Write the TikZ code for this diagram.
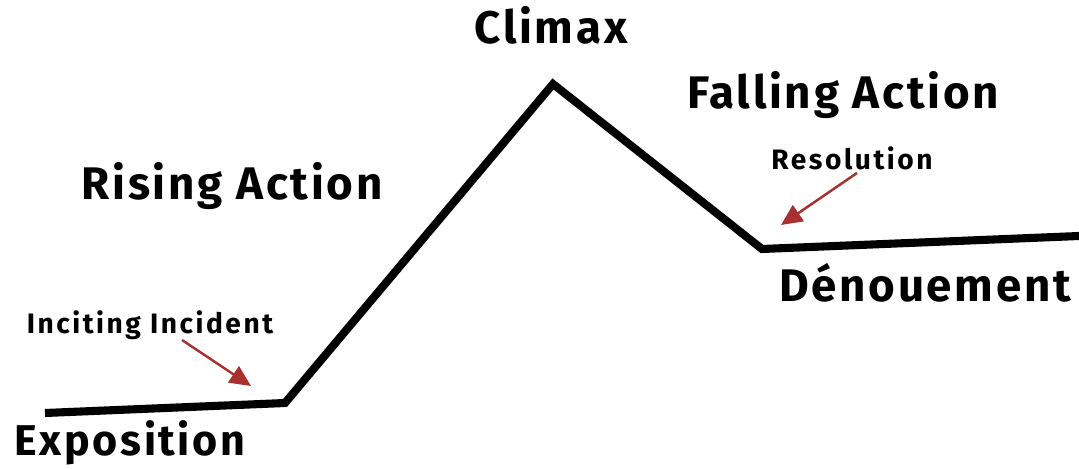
\documentclass[tikz,border=0pt]{standalone}
\usepackage{fontspec}
\setmainfont{Fira Sans}
\newfontfamily\handwide[LetterSpace=6]{Fira Sans}
\newfontfamily\handsmall[LetterSpace=9]{Fira Sans}
\usetikzlibrary{arrows.meta}
\definecolor{pointer}{HTML}{A8302E}
\tikzset{
  plotline/.style={line width=4.6pt, line join=miter, black},
  big/.style={font=\handwide\fontsize{26}{30}\selectfont\bfseries, inner sep=0pt},
  small/.style={font=\handsmall\fontsize{16}{19}\selectfont\bfseries, inner sep=0pt},
  pointerarrow/.style={pointer, line width=1.4pt, -{Triangle[length=12pt,width=11pt]}}
}
\begin{document}
\begin{tikzpicture}[x=0.02cm, y=-0.02cm]
  \useasboundingbox (0,0) rectangle (1079,469);
  % story arc
  \coordinate (start) at (45,413);
  \coordinate (incite) at (285,403);
  \coordinate (peak) at (553,84);
  \coordinate (low) at (762,249);
  \coordinate (finish) at (1079,236);
  \draw[plotline] (start) -- (incite) -- (peak) -- (low) -- (finish);
  % stage labels
  \node[big] (climax) at (551,25) {Climax};
  \node[big] (falling) at (843,95) {Falling Action};
  \node[big] (rising) at (232,186) {Rising Action};
  \node[big] (denouement) at (925,283) {Dénouement};
  \node[big, font=\handwide\fontsize{24.5}{28}\selectfont\bfseries] (exposition) at (130,443) {Exposition};
  \node[small] (inciting) at (150,325) {Inciting Incident};
  \node[small] (resolution) at (852,158) {Resolution};
  % pointers
  \coordinate (incitetail) at (182,340);
  \coordinate (incitetip) at (251,386);
  \coordinate (restail) at (857,173);
  \coordinate (restip) at (781,225);
  \draw[pointerarrow] (incitetail) -- (incitetip);
  \draw[pointerarrow] (restail) -- (restip);
\end{tikzpicture}
\end{document}
